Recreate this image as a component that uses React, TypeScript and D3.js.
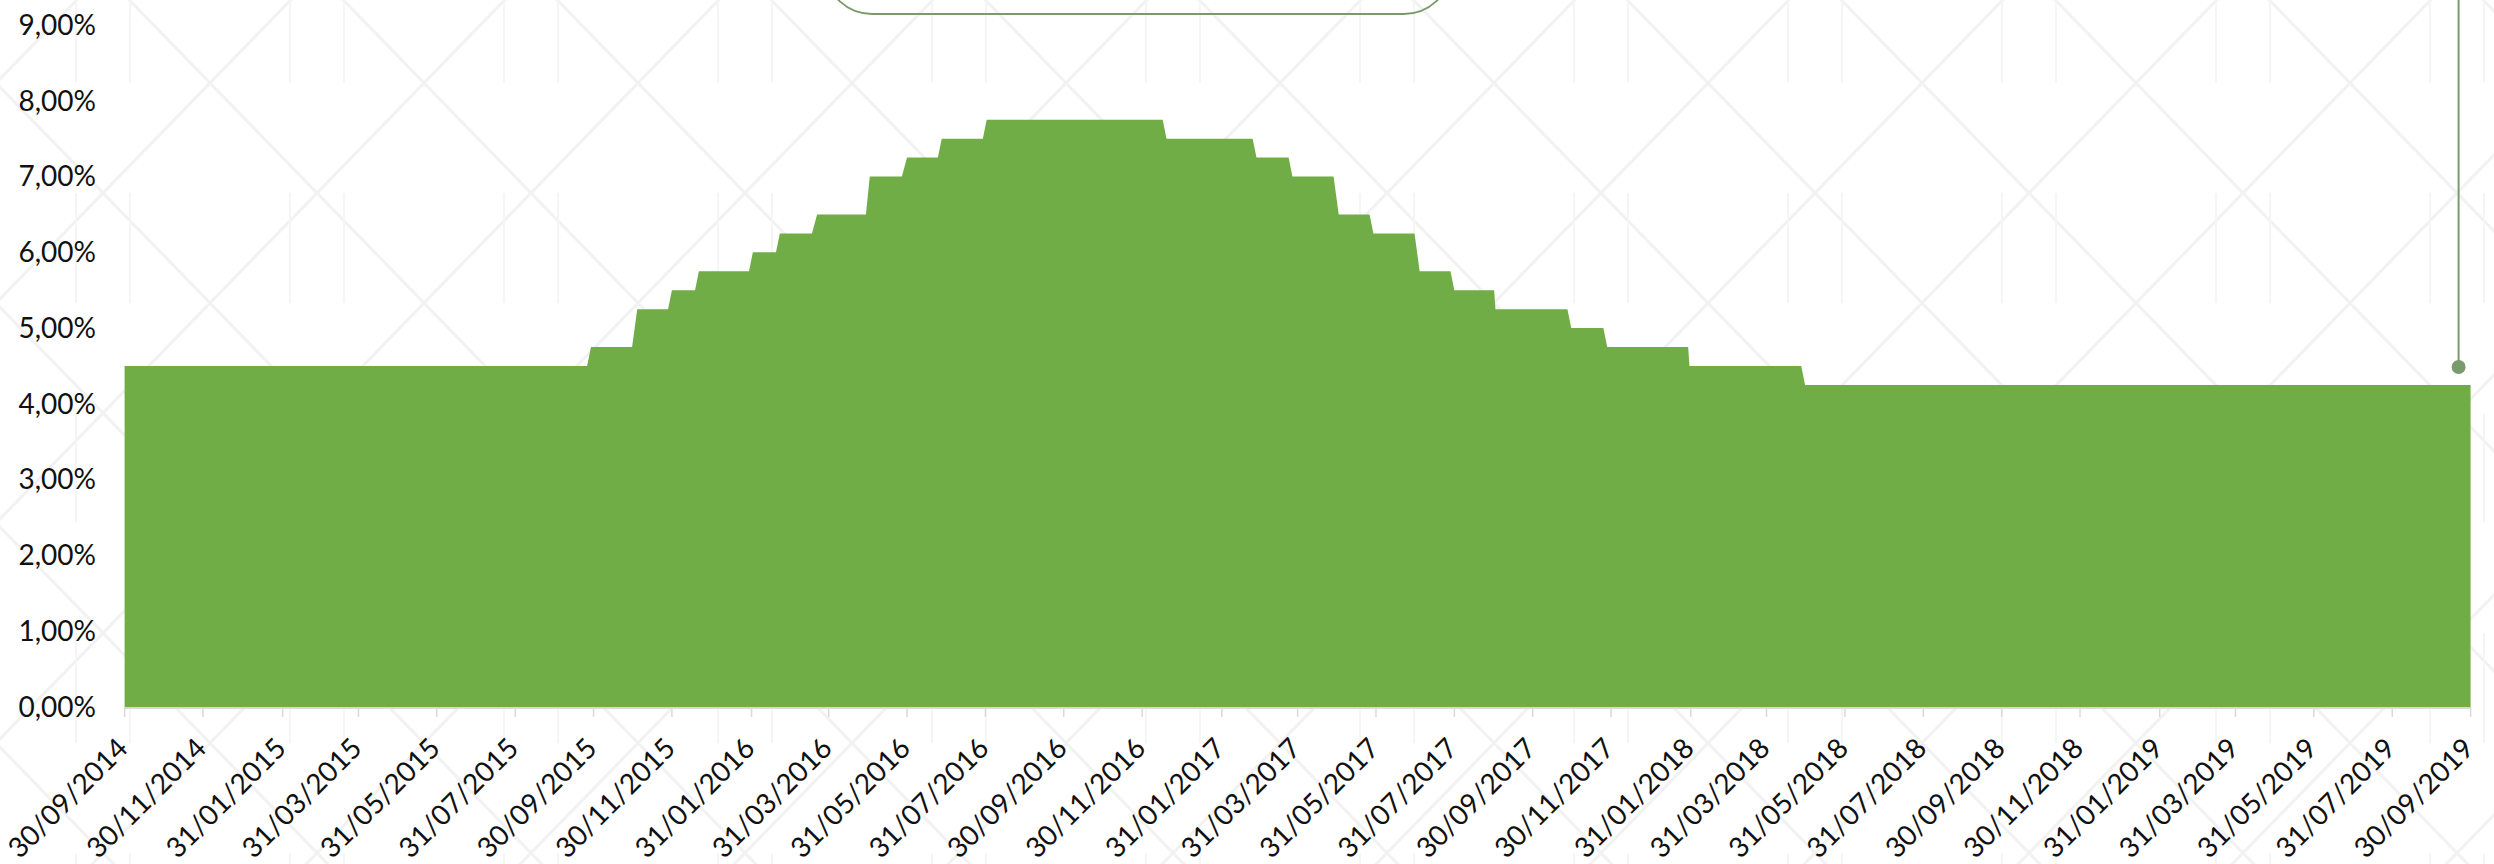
import React, { useEffect } from "react";
import * as d3 from "d3";

// ---- data ----
const startDate = "2014-09-30";
const endDate = "2019-09-30";
const startRate = 4.5;
// last business day at the previous rate
const lastOldDates = [
  "2015-09-25", "2015-10-30", "2015-11-27", "2015-12-18", "2016-01-29", "2016-02-19",
  "2016-03-18", "2016-04-29", "2016-05-27", "2016-06-24", "2016-07-29", "2016-12-16",
  "2017-02-24", "2017-03-24", "2017-04-28", "2017-05-26", "2017-06-30", "2017-07-28",
  "2017-08-31", "2017-10-27", "2017-11-24", "2018-01-29", "2018-04-27",
];
// first business day at the new rate
const changeDates = [
  "2015-09-28", "2015-11-03", "2015-11-30", "2015-12-21", "2016-02-01", "2016-02-22",
  "2016-03-22", "2016-05-02", "2016-05-31", "2016-06-27", "2016-08-01", "2016-12-19",
  "2017-02-27", "2017-03-27", "2017-05-02", "2017-05-29", "2017-07-04", "2017-07-31",
  "2017-09-01", "2017-10-30", "2017-11-27", "2018-01-30", "2018-04-30",
];
const newRates = [
  4.75, 5.25, 5.5, 5.75, 6.0, 6.25, 6.5, 7.0, 7.25, 7.5, 7.75, 7.5,
  7.25, 7.0, 6.5, 6.25, 5.75, 5.5, 5.25, 5.0, 4.75, 4.5, 4.25,
];
const xTickLabels = [
  "30/09/2014", "30/11/2014", "31/01/2015", "31/03/2015", "31/05/2015", "31/07/2015",
  "30/09/2015", "30/11/2015", "31/01/2016", "31/03/2016", "31/05/2016", "31/07/2016",
  "30/09/2016", "30/11/2016", "31/01/2017", "31/03/2017", "31/05/2017", "31/07/2017",
  "30/09/2017", "30/11/2017", "31/01/2018", "31/03/2018", "31/05/2018", "31/07/2018",
  "30/09/2018", "30/11/2018", "31/01/2019", "31/03/2019", "31/05/2019", "31/07/2019",
  "30/09/2019",
];
const yTicks = [0, 1, 2, 3, 4, 5, 6, 7, 8, 9];

const W = 2494;
const H = 864;
const FONT = "Lato, 'Noto Sans', sans-serif";
const GREEN = "#70AD47";
const ANNOT = "#789a6c";

const parseISO = d3.utcParse("%Y-%m-%d");
const parseDMY = d3.utcParse("%d/%m/%Y");

type Pt = { date: Date; value: number };

export default function App() {
  useEffect(() => {
    document.body.style.margin = "0";
  }, []);

  const x = d3
    .scaleUtc()
    .domain([parseISO(startDate)!, parseISO(endDate)!])
    .range([124.6, 2470.6]);
  const y = d3.scaleLinear().domain([0, 9]).range([707, 25]);

  const pts: Pt[] = [{ date: parseISO(startDate)!, value: startRate }];
  let prev = startRate;
  changeDates.forEach((d, i) => {
    pts.push({ date: parseISO(lastOldDates[i])!, value: prev });
    pts.push({ date: parseISO(d)!, value: newRates[i] });
    prev = newRates[i];
  });
  pts.push({ date: parseISO(endDate)!, value: prev });

  const area = d3
    .area<Pt>()
    .x((d) => x(d.date))
    .y0(y(0))
    .y1((d) => y(d.value))
    .curve(d3.curveLinear);

  const fmt = (v: number) => v.toFixed(2).replace(".", ",") + "%";
  const last = pts[pts.length - 1];
  const dotX = x(last.date) - 12;

  return (
    <svg
      width={W}
      height={H}
      style={{ display: "block", position: "absolute", left: 0, top: 0, background: "#fff" }}
    >
      <defs>
        <pattern id="bgpat" patternUnits="userSpaceOnUse" width={214} height={220} x={-4} y={83}>
          <line x1={0} y1={0} x2={214} y2={220} stroke="#f2f2f2" strokeWidth={3} />
          <line x1={214} y1={0} x2={0} y2={220} stroke="#f2f2f2" strokeWidth={3} />
          <line x1={80} y1={110} x2={80} y2={220} stroke="#f5f5f5" strokeWidth={2} />
          <line x1={134} y1={110} x2={134} y2={220} stroke="#f5f5f5" strokeWidth={2} />
        </pattern>
      </defs>
      <rect x={0} y={0} width={W} height={H} fill="url(#bgpat)" />

      {/* annotation box (top, clipped) */}
      <rect x={827} y={-70} width={622} height={84} rx={45} ry={45} fill="none" stroke={ANNOT} strokeWidth={1.8} />
      {/* annotation leader line and dot */}
      <line x1={dotX} y1={0} x2={dotX} y2={y(last.value) - 18} stroke={ANNOT} strokeWidth={2} />
      <circle cx={dotX} cy={y(last.value) - 18} r={7} fill={ANNOT} />

      {/* area */}
      <path d={area(pts) || ""} fill={GREEN} />

      {/* x axis */}
      <line x1={x.range()[0]} x2={x.range()[1]} y1={y(0) + 1} y2={y(0) + 1} stroke="#d9d9d9" strokeWidth={2} />
      {xTickLabels.map((lbl) => {
        const px = x(parseDMY(lbl)!);
        return (
          <g key={lbl}>
            <line x1={px} x2={px} y1={y(0)} y2={y(0) + 10} stroke="#d9d9d9" strokeWidth={1.5} />
            <text
              transform={`translate(${px + 5},${y(0) + 43}) rotate(-45)`}
              textAnchor="end"
              fontFamily={FONT}
              fontSize={28}
              fill="#111"
            >
              {lbl}
            </text>
          </g>
        );
      })}

      {/* y axis labels */}
      {yTicks.map((v) => (
        <text
          key={v}
          x={96}
          y={y(v)}
          dy="0.35em"
          textAnchor="end"
          fontFamily={FONT}
          fontSize={28}
          fill="#111"
        >
          {fmt(v)}
        </text>
      ))}
    </svg>
  );
}
